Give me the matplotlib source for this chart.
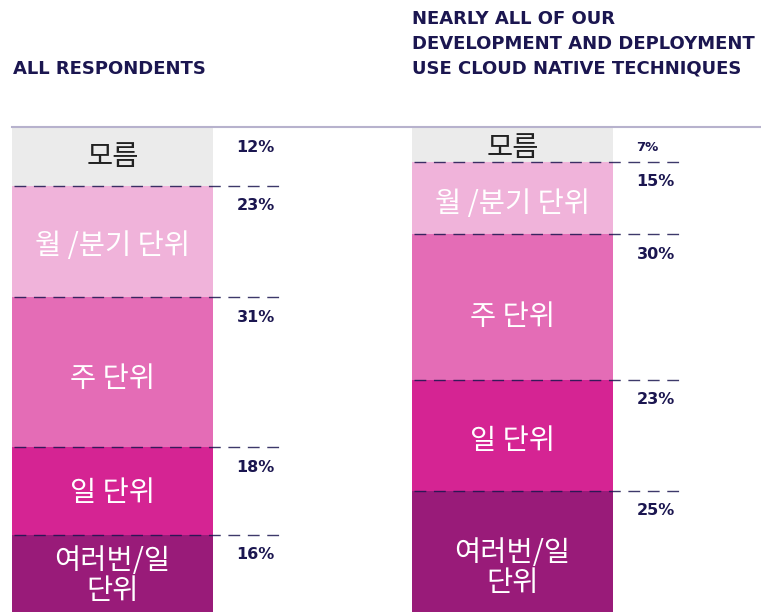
import matplotlib
matplotlib.use("Agg")
import matplotlib.pyplot as plt
import numpy as np

# Release frequency shares (percent), top segment first
categories = ["모름", "월 /분기 단위", "주 단위", "일 단위", "여러번/일\n단위"]
all_respondents = [12, 23, 31, 18, 16]
cloud_native = [7, 15, 30, 23, 25]
group_titles = ["ALL RESPONDENTS",
                "NEARLY ALL OF OUR\nDEVELOPMENT AND DEPLOYMENT\nUSE CLOUD NATIVE TECHNIQUES"]

colors = ["#ebebeb", "#f0b3da", "#e46cb6", "#d52493", "#991b79"]
text_colors = ["#222222", "#ffffff", "#ffffff", "#ffffff", "#ffffff"]
navy = "#1b1650"

W, H = 761, 612
fig = plt.figure(figsize=(W / 100, H / 100), dpi=100)
top_px = 128
ax = fig.add_axes([0, 0, 1, 1 - top_px / H])
ax.set_xlim(-112.5 / 400, (W - 112.5) / 400)
ax.set_ylim(100, 0)
ax.axis("off")

kfont = ["Noto Sans CJK KR", "DejaVu Sans"]
lfont = "DejaVu Sans"
bar_w = 201 / 400
series = [all_respondents, cloud_native]
# small vertical nudges (percent units) for in-bar labels
label_nudge = [[-0.6, 0.2, 0.8, -0.2, 0.0],
               [0.0, 0.5, 1.4, 0.6, 2.9]]

for xi, vals in enumerate(series):
    vals = np.array(vals, dtype=float)
    bottoms = np.concatenate([[0], np.cumsum(vals)[:-1]])
    ax.bar([xi] * len(vals), vals, bottom=bottoms, width=bar_w,
           color=colors, align="center", linewidth=0)
    for i, (v, b) in enumerate(zip(vals, bottoms)):
        # category label inside the segment
        ax.text(xi, b + v / 2 + 0.6 + label_nudge[xi][i], categories[i],
                ha="center", va="center", fontsize=20.5,
                color=text_colors[i], family=kfont, fontweight="light",
                linespacing=1.0)
        # percentage label beside the segment
        fs = 9.5 if v < 10 else 11.5
        ax.text(xi + 0.31, b + 4.1, f"{int(v)}%", ha="left", va="center",
                fontsize=fs, color=navy, family=lfont, fontweight="bold")
        if i > 0:
            ax.plot([xi - bar_w / 2 + 0.005, xi + 0.41875], [b, b],
                    color=navy, lw=1.0, ls=(0, (8.5, 5.5)), alpha=0.85,
                    solid_capstyle="butt", dash_capstyle="butt")

# rule above the bars
ax.plot([-bar_w / 2, (W - 112.5) / 400], [-0.25, -0.25], color="#b7b2cd",
        lw=1.5, clip_on=False)

fig.text(13 / W, 1 - 74 / H, group_titles[0], ha="left", va="baseline",
         fontsize=13, color=navy, family=lfont, fontweight="bold")
fig.text(412 / W, 1 - 74 / H, group_titles[1], ha="left", va="baseline",
         fontsize=13, color=navy, family=lfont, fontweight="bold",
         linespacing=1.5)

fig.savefig("out.png", dpi=100)
